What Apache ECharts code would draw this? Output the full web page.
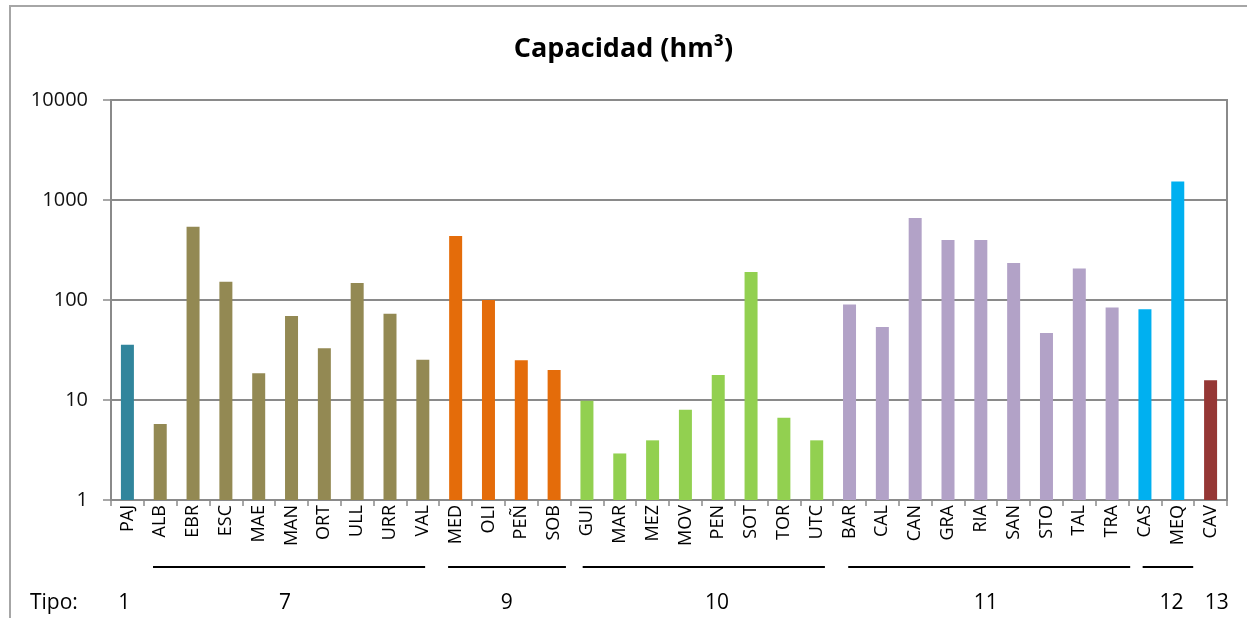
<!DOCTYPE html>
<html>
<head>
<meta charset="utf-8">
<script src="https://cdn.jsdelivr.net/npm/echarts@6/dist/echarts.min.js"></script>
<style>
html,body{margin:0;padding:0;background:#fff;}
#chart{width:1247px;height:618px;}
</style>
</head>
<body>
<div id="chart"></div>
<script>
// ---- data ----
const categories = ['PAJ','ALB','EBR','ESC','MAE','MAN','ORT','ULL','URR','VAL','MED','OLI','PEÑ','SOB','GUI','MAR','MEZ','MOV','PEN','SOT','TOR','UTC','BAR','CAL','CAN','GRA','RIA','SAN','STO','TAL','TRA','CAS','MEQ','CAV'];
const capacidad = [35.7,5.75,541,152,18.5,69,33,148,73,25.3,437,100,25,20,9.85,2.92,3.95,8,17.8,190,6.65,3.95,90,53.7,661,398,398,234,46.8,206,84,81,1535,15.8];
const tipo = [1,7,7,7,7,7,7,7,7,7,9,9,9,9,10,10,10,10,10,10,10,10,11,11,11,11,11,11,11,11,11,12,12,13];
const tipoLabels = ['1','7','9','10','11','12','13'];
const yTicks = [1,10,100,1000,10000];

// ---- styling / layout ----
const tipoColors = {1:'#31859C',7:'#938953',9:'#E46C0A',10:'#92D050',11:'#B2A2C7',12:'#00B0F0',13:'#953735'};
// group underline spans, in category units (from left edge of first category)
const lineSpans = [[1.28,9.57],[10.27,13.86],[14.37,21.75],[22.46,31.05],[31.43,32.97]];
// tipo label centers, in category units
const labelPos = [0.40,5.30,12.06,18.46,26.65,32.31,33.69];

const FONT = '"Open Sans", Lato, sans-serif';
const GRID = '#8a8a8a';

const chart = echarts.init(document.getElementById('chart'));
const option = {
  backgroundColor:'#fff',
  animation:false,
  title:{
    text:'Capacidad (hm³)',
    left:'center',
    top:36,
    padding:[0,0,0,18],
    textStyle:{fontFamily:FONT,fontSize:27,fontWeight:'bold',color:'#000'}
  },
  grid:{left:111,right:20,top:100,bottom:118,show:true,borderColor:GRID,borderWidth:2,backgroundColor:'transparent'},
  xAxis:{
    type:'category',
    data:categories,
    axisLine:{lineStyle:{color:GRID,width:2}},
    axisTick:{show:true,length:6,lineStyle:{color:GRID,width:1.5}},
    axisLabel:{interval:0,rotate:90,margin:5,fontFamily:FONT,fontSize:18,color:'#000'}
  },
  yAxis:{
    type:'log',
    logBase:10,
    min:yTicks[0],
    max:yTicks[yTicks.length-1],
    axisLine:{show:true,lineStyle:{color:GRID,width:2}},
    axisTick:{show:true,length:8,lineStyle:{color:GRID,width:1.5}},
    splitLine:{show:true,lineStyle:{color:GRID,width:2}},
    axisLabel:{margin:23,fontFamily:FONT,fontSize:20,color:'#111',formatter:v=>String(Math.round(v))}
  },
  series:[{
    type:'bar',
    barWidth:13,
    data:capacidad.map((v,i)=>({value:v,itemStyle:{color:tipoColors[tipo[i]]}}))
  }]
};
chart.setOption(option);

// annotations computed from the axis scale
const c0 = chart.convertToPixel({xAxisIndex:0},0);
const c1 = chart.convertToPixel({xAxisIndex:0},1);
const w = c1 - c0;
const left0 = c0 - w/2;
const ux = u => left0 + u*w;
const graphics = [
  {type:'rect',shape:{x:10,y:6,width:1400,height:800},style:{fill:'none',stroke:'#a6a6a6',lineWidth:2},silent:true,z:-1}
];
lineSpans.forEach(s=>{
  graphics.push({type:'line',shape:{x1:ux(s[0]),y1:567,x2:ux(s[1]),y2:567},style:{stroke:'#000',lineWidth:2}});
});
graphics.push({type:'text',x:30,y:603,style:{text:'Tipo:',font:'21px '+FONT,fill:'#000',textVerticalAlign:'middle',verticalAlign:'middle'}});
tipoLabels.forEach((t,i)=>{
  graphics.push({type:'text',x:ux(labelPos[i]),y:603,style:{text:t,font:'21px '+FONT,fill:'#000',textAlign:'center',align:'center',verticalAlign:'middle',textVerticalAlign:'middle'}});
});
chart.setOption({graphic:graphics});
</script>
</body>
</html>
